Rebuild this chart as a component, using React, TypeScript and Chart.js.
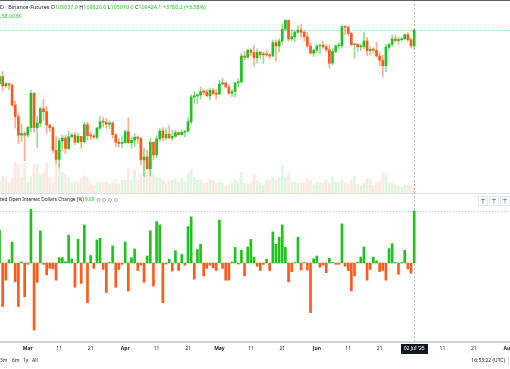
import { useEffect, useRef } from "react";
import { Chart, registerables } from "chart.js";
Chart.register(...registerables);

// Day index relative to 1 Mar 2025 (first candle: 20 Feb 2025)
const START_DAY = -9;
const LAST_DAY = 123; // 2 Jul 2025

// Prices in thousand USD — Feb20..28 | Mar | Apr | May | Jun | Jul1..2
const OPEN = [
  96.6, 98.3, 96.1, 96.6, 96.3, 91.5, 88.7, 84.3, 84.7,
  84.3, 86.1, 94.3, 86.1, 87.2, 90.6, 89.9, 86.7, 86.1, 80.7, 78.5, 82.9, 83.6, 81.1, 83.9, 84.3, 82.6, 84.0, 82.7, 86.8, 84.2, 84.1, 83.8, 86.0, 87.5, 87.4, 86.9, 87.2, 84.4, 82.6, 82.3,
  82.5, 85.1, 82.5, 83.1, 83.8, 83.5, 78.4, 79.1, 76.3, 82.6, 79.6, 83.4, 85.3, 83.7, 84.5, 83.6, 84.0, 84.9, 84.4, 85.0, 85.2, 87.5, 93.4, 93.7, 93.9, 94.7, 94.6, 93.7, 95.0, 94.2,
  94.1, 96.5, 96.8, 95.8, 94.3, 94.7, 96.8, 97.0, 103.2, 102.9, 104.6, 104.1, 102.8, 104.1, 103.5, 103.7, 103.5, 103.2, 106.4, 105.6, 106.8, 109.6, 111.7, 107.3, 107.8, 108.9, 109.4, 108.9, 107.8, 105.6, 103.9,
  104.6, 105.6, 105.8, 105.4, 104.7, 101.5, 104.3, 105.6, 105.7, 110.2, 110.1, 108.6, 105.9, 106.0, 105.4, 105.5, 106.8, 104.5, 104.8, 104.6, 103.2, 102.2, 100.9, 105.3, 106.0, 107.3, 106.9, 107.1, 107.3, 108.3,
  107.1, 105.64,
];
const HIGH = [
  98.8, 99.5, 96.9, 96.7, 96.5, 92.5, 89.4, 87.0, 85.1,
  86.5, 95.0, 94.4, 88.9, 91.0, 92.8, 91.2, 86.9, 86.4, 83.9, 83.6, 84.3, 84.3, 85.2, 84.7, 85.0, 84.7, 84.0, 87.4, 87.4, 85.0, 84.5, 86.1, 88.7, 88.5, 88.3, 87.8, 87.5, 84.6, 83.5, 83.9,
  85.5, 88.5, 83.9, 84.7, 84.2, 83.8, 81.2, 80.8, 83.5, 82.7, 84.2, 85.9, 86.1, 85.8, 86.5, 85.5, 85.5, 85.1, 85.6, 85.3, 88.5, 93.9, 94.7, 94.0, 95.8, 95.3, 95.2, 95.6, 95.5, 95.2,
  97.4, 97.9, 96.9, 96.3, 95.2, 96.9, 97.7, 103.9, 104.3, 104.9, 104.9, 105.8, 104.9, 104.3, 104.2, 104.6, 103.8, 107.1, 107.1, 107.3, 110.8, 112.0, 111.9, 109.5, 109.3, 110.4, 110.7, 109.3, 108.9, 106.3, 104.9,
  105.9, 105.9, 106.8, 106.0, 105.9, 105.0, 105.9, 106.4, 110.6, 110.4, 110.4, 108.9, 106.2, 106.2, 106.1, 108.9, 107.7, 105.5, 105.2, 106.5, 104.0, 103.4, 106.0, 106.3, 108.1, 108.2, 107.7, 107.6, 108.5, 108.8,
  107.5, 109.62,
];
const LOW = [
  96.4, 94.8, 95.7, 95.2, 91.2, 86.0, 82.3, 82.8, 78.2,
  83.8, 85.1, 85.0, 81.4, 86.3, 87.8, 84.7, 85.2, 80.0, 77.4, 76.6, 80.6, 79.9, 80.8, 83.6, 82.0, 82.4, 81.2, 82.4, 83.2, 83.2, 83.6, 83.3, 85.6, 86.3, 85.9, 85.8, 83.6, 81.6, 81.5, 81.3,
  82.4, 82.3, 81.2, 81.6, 82.3, 77.1, 74.5, 76.2, 74.6, 78.4, 78.9, 82.8, 82.9, 83.2, 83.6, 83.1, 83.8, 84.3, 84.3, 83.9, 85.1, 87.0, 91.9, 91.7, 92.9, 93.9, 93.5, 92.8, 93.9, 92.9,
  94.1, 96.3, 95.7, 94.1, 93.5, 93.4, 95.8, 96.9, 102.3, 102.8, 103.3, 100.7, 101.5, 102.6, 101.4, 103.1, 102.6, 103.1, 102.0, 104.2, 106.1, 109.3, 106.8, 106.9, 106.6, 108.6, 107.6, 106.8, 105.3, 103.6, 103.1,
  103.9, 103.7, 105.0, 104.2, 100.4, 101.1, 103.9, 104.9, 105.1, 108.3, 108.1, 105.7, 102.7, 104.3, 104.5, 104.9, 103.3, 103.5, 103.9, 102.9, 100.8, 98.2, 99.5, 104.6, 105.5, 106.6, 106.0, 106.8, 107.2, 106.7,
  105.2, 105.01,
];
const CLOSE = [
  98.3, 96.1, 96.6, 96.3, 91.5, 88.7, 84.3, 84.7, 84.3,
  86.1, 94.3, 86.1, 87.2, 90.6, 89.9, 86.7, 86.1, 80.7, 78.5, 82.9, 83.6, 81.1, 83.9, 84.3, 82.6, 84.0, 82.7, 86.8, 84.2, 84.1, 83.8, 86.0, 87.5, 87.4, 86.9, 87.2, 84.4, 82.6, 82.3, 82.5,
  85.1, 82.5, 83.1, 83.8, 83.5, 78.4, 79.1, 76.3, 82.6, 79.6, 83.4, 85.3, 83.7, 84.5, 83.6, 84.0, 84.9, 84.4, 85.0, 85.2, 87.5, 93.4, 93.7, 93.9, 94.7, 94.6, 93.7, 95.0, 94.2, 94.1,
  96.5, 96.8, 95.8, 94.3, 94.7, 96.8, 97.0, 103.2, 102.9, 104.6, 104.1, 102.8, 104.1, 103.5, 103.7, 103.5, 103.2, 106.4, 105.6, 106.8, 109.6, 111.7, 107.3, 107.8, 108.9, 109.4, 108.9, 107.8, 105.6, 103.9, 104.6,
  105.6, 105.8, 105.4, 104.7, 101.5, 104.3, 105.6, 105.7, 110.2, 110.1, 108.6, 105.9, 106.0, 105.4, 105.5, 106.8, 104.5, 104.8, 104.6, 103.2, 102.2, 100.9, 105.3, 106.0, 107.3, 106.9, 107.1, 107.3, 108.3, 107.1,
  105.64, 109.42,
];
// Volume (K)
const VOLUME = [
  120, 170, 160, 100, 150, 310, 280, 160, 300,
  110, 160, 290, 290, 180, 210, 300, 160, 100, 290, 290, 210, 180, 160, 100, 110, 110, 150, 170, 160, 100, 80, 100, 110, 110, 110, 90, 100, 130, 90, 130,
  130, 250, 130, 230, 130, 180, 350, 290, 320, 200, 160, 150, 130, 100, 120, 130, 150, 110, 150, 110, 200, 230, 160, 130, 130, 100, 100, 130, 130, 100,
  110, 100, 80, 80, 100, 130, 110, 210, 100, 90, 100, 180, 130, 100, 80, 130, 130, 160, 130, 160, 280, 160, 200, 110, 110, 100, 110, 100, 150, 130, 80,
  110, 100, 100, 130, 100, 160, 110, 110, 130, 100, 90, 130, 170, 80, 80, 100, 140, 140, 80, 100, 120, 200, 200, 100, 100, 80, 70, 60, 80, 80,
  80, 100,
];
// Aggregated Open Interest Dollars Change (%)
const OI_CHANGE = [
  6.1, -8.1, -3.2, 0.6, 3.9, -3.5, -8.1, 0.2, -6.3,
  -0.25, 10.0, -12.5, -3.6, 6.0, -0.25, -2.2, -1.0, -1.1, -3.2, 1.0, 1.0, 0.25, 5.2, 0.75, -4.5, 4.4, -3.8, 7.1, -7.4, 1.4, -1.0, 4.3, 4.6, -1.2, -5.5, 0.1, 3.2, -4.5, -1.2, -0.25,
  3.9, -5.2, 1.0, 2.6, -1.4, -0.4, -3.6, 1.3, 6.0, -4.3, 7.7, 7.1, -7.4, -0.2, 0.7, -1.5, 2.3, -1.4, 1.6, -0.4, 6.8, 8.6, -3.0, 2.5, 3.5, -2.4, -1.0, -0.4, -0.9, -1.4,
  8.0, -1.0, -3.2, -3.2, 0.2, 2.9, -0.2, 2.4, -2.4, 3.0, 4.4, 1.1, -0.6, -1.4, -0.25, 0.7, -1.4, 5.8, 3.5, 4.8, 7.1, 2.9, -3.5, -1.6, 0.1, 4.8, -1.3, 0.1, -1.3, -9.25, 0.8,
  1.3, -0.8, -0.4, -1.8, 0.9, 0.1, -0.25, -0.25, 7.3, -0.6, -1.4, -5.2, -2.4, 0.15, 1.1, 3.0, -3.2, -1.2, 1.1, 0.4, -1.6, -1.4, -3.2, 2.7, 3.6, 0.1, -2.1, 0.1, 2.4, -1.1,
  -1.9, 9.69,
];

const TICK_DAYS = [0, 10, 20, 31, 41, 51, 61, 71, 81, 92, 102, 112, 132, 142, 153];
const TICK_LABELS = ["Mar", "11", "21", "Apr", "11", "21", "May", "11", "21", "Jun", "11", "21", "11", "21", "Aug"];
const MONTH_LABELS = ["Mar", "Apr", "May", "Jun", "Aug"];
const CROSSHAIR_LABEL = "02 Jul '25";

const HEADER = [
  ["D · Binance-Futures ", "dark"],
  ["O", "dark"], ["105637.9", "green"],
  [" H", "dark"], ["109620.0", "green"],
  [" L", "dark"], ["105010.0", "green"],
  [" C", "dark"], ["109424.1", "green"],
  [" +3786.2 (+3.58%)", "green"],
];
const VOL_TEXT = ".58.003K";
const OI_TITLE = "ted Open Interest Dollars Change (%) ";
const OI_VALUE_TEXT = "9.69";
const RANGES = [["3m", 0], ["6m", 12], ["1y", 23], ["All", 32]];
const CLOCK = "16:53:22 (UTC)";

const GREEN = "#1fc21f";
const RED = "#ff5a1e";
const DARK = "#131722";
const FONT = '"Noto Sans", sans-serif';

const DAYS = CLOSE.map((_, i) => START_DAY + i);
const LAST_CLOSE = CLOSE[CLOSE.length - 1];
const LAST_OI = OI_CHANGE[OI_CHANGE.length - 1];

const labelFor = (v: number) => {
  const i = TICK_DAYS.indexOf(v);
  return i >= 0 ? TICK_LABELS[i] : "";
};

export default function App() {
  const ref = useRef<HTMLCanvasElement | null>(null);
  useEffect(() => {
    if (!ref.current) return;
    const up = CLOSE.map((c, i) => c >= OPEN[i]);
    const overlay = {
      id: "overlay",
      beforeDatasetsDraw(chart: any) {
        const { ctx, chartArea, scales } = chart;
        ctx.save();
        ctx.fillStyle = "#e0e3eb";
        ctx.fillRect(0, 193, chart.width, 1);
        const py = Math.round(scales.yp.getPixelForValue(LAST_CLOSE)) + 0.5;
        ctx.strokeStyle = "rgba(31,194,31,0.35)";
        ctx.lineWidth = 1;
        ctx.setLineDash([3, 1]);
        ctx.beginPath(); ctx.moveTo(0, py); ctx.lineTo(chart.width, py); ctx.stroke();
        const oy = Math.round(scales.yo.getPixelForValue(LAST_OI)) + 0.5;
        ctx.strokeStyle = "#c9cbd0";
        ctx.setLineDash([1.5, 1.5]);
        ctx.beginPath(); ctx.moveTo(0, oy); ctx.lineTo(chart.width, oy); ctx.stroke();
        const cx = Math.round(scales.x.getPixelForValue(LAST_DAY)) + 0.5;
        ctx.strokeStyle = "#b8bbc2";
        ctx.setLineDash([2, 2]);
        ctx.beginPath(); ctx.moveTo(cx, 0); ctx.lineTo(cx, chartArea.bottom); ctx.stroke();
        ctx.restore();
      },
      afterDraw(chart: any) {
        const { ctx, chartArea, scales } = chart;
        const W = chart.width;
        ctx.save();
        ctx.setLineDash([]);
        ctx.fillStyle = "#5d606b";
        ctx.fillRect(0, 0, W, 1);
        ctx.fillStyle = "#cfd2d8";
        ctx.fillRect(0, chartArea.bottom - 1, W, 2);
        ctx.textBaseline = "middle";
        ctx.textAlign = "left";
        ctx.font = `5.4px ${FONT}`;
        let x = 0;
        for (const [t, c] of HEADER) {
          ctx.fillStyle = c === "green" ? GREEN : DARK;
          ctx.fillText(t, x, 7);
          x += ctx.measureText(t).width;
        }
        ctx.fillStyle = GREEN;
        ctx.fillText(VOL_TEXT, 0, 16);
        ctx.font = `4.8px ${FONT}`;
        ctx.fillStyle = DARK;
        ctx.fillText(OI_TITLE, 0, 200);
        let x2 = ctx.measureText(OI_TITLE).width;
        ctx.fillStyle = GREEN;
        ctx.fillText(OI_VALUE_TEXT, x2, 200);
        x2 += ctx.measureText(OI_VALUE_TEXT).width + 4;
        ctx.strokeStyle = "#8a8e99";
        ctx.lineWidth = 0.7;
        for (let k = 0; k < 4; k++) {
          ctx.beginPath();
          ctx.arc(x2 + k * 5.8, 200, 1.5, 0, Math.PI * 2);
          ctx.stroke();
        }
        for (let k = 0; k < 3; k++) {
          const bx = 478.5 + k * 11;
          ctx.strokeStyle = "#e0e3eb";
          ctx.lineWidth = 1;
          ctx.strokeRect(bx, 196.5, 9, 9);
          ctx.strokeStyle = "#6a6d78";
          ctx.lineWidth = 0.7;
          ctx.beginPath();
          ctx.moveTo(bx + 4.5, 198.5); ctx.lineTo(bx + 4.5, 203.5);
          ctx.moveTo(bx + 2.5, 199.5); ctx.lineTo(bx + 6.5, 199.5);
          ctx.stroke();
        }
        const cx = scales.x.getPixelForValue(LAST_DAY);
        ctx.font = `5px ${FONT}`;
        const tw = ctx.measureText(CROSSHAIR_LABEL).width + 6;
        ctx.fillStyle = DARK;
        ctx.fillRect(Math.round(cx - tw / 2), chartArea.bottom + 2, Math.round(tw), 10);
        ctx.fillStyle = "#ffffff";
        ctx.textAlign = "center";
        ctx.fillText(CROSSHAIR_LABEL, cx, chartArea.bottom + 7);
        ctx.textAlign = "left";
        ctx.fillStyle = DARK;
        for (const [t, px] of RANGES) ctx.fillText(t as string, px as number, 361);
        ctx.textAlign = "right";
        ctx.fillText(CLOCK, 505, 361);
        ctx.fillStyle = "#d6d8de";
        ctx.fillRect(508, 356, 1, 10);
        ctx.restore();
      },
    };

    const chart = new Chart(ref.current, {
      type: "bar",
      data: {
        datasets: [
          {
            label: "body",
            data: DAYS.map((d, i) => ({ x: d, y: [OPEN[i], CLOSE[i]] })) as any,
            yAxisID: "yp",
            backgroundColor: up.map((u) => (u ? GREEN : RED)),
            barThickness: 2,
            minBarLength: 1,
            grouped: false,
            order: 1,
          },
          {
            label: "wick",
            data: DAYS.map((d, i) => ({ x: d, y: [LOW[i], HIGH[i]] })) as any,
            yAxisID: "yp",
            backgroundColor: up.map((u) => (u ? "rgba(31,194,31,0.5)" : "rgba(255,90,30,0.5)")),
            barThickness: 1,
            grouped: false,
            order: 2,
          },
          {
            label: "volume",
            data: DAYS.map((d, i) => ({ x: d, y: VOLUME[i] })) as any,
            yAxisID: "yv",
            backgroundColor: up.map((u) => (u ? "rgba(31,194,31,0.14)" : "rgba(255,90,30,0.14)")),
            barThickness: 2,
            grouped: false,
            order: 3,
          },
          {
            label: "oi",
            data: DAYS.map((d, i) => ({ x: d, y: OI_CHANGE[i] })) as any,
            yAxisID: "yo",
            backgroundColor: OI_CHANGE.map((v) => (v >= 0 ? GREEN : RED)),
            barThickness: 2,
            grouped: false,
            order: 1,
          },
        ],
      },
      options: {
        animation: false,
        responsive: true,
        maintainAspectRatio: false,
        events: [],
        layout: { padding: 0 },
        plugins: { legend: { display: false }, tooltip: { enabled: false } },
        scales: {
          x: {
            type: "linear",
            position: "bottom",
            min: -8.85,
            max: 153.5,
            offset: false,
            bounds: "data",
            grid: { display: false, drawTicks: false, offset: false },
            border: { display: false },
            afterBuildTicks: (s: any) => {
              s.ticks = TICK_DAYS.map((v) => ({ value: v }));
            },
            afterFit: (s: any) => {
              s.height = 27;
              s.paddingLeft = 0;
              s.paddingRight = 0;
            },
            ticks: {
              autoSkip: false,
              maxRotation: 0,
              padding: 4,
              color: DARK,
              callback: (v: any) => labelFor(Number(v)),
              font: (c: any) => ({
                family: FONT,
                size: 5,
                weight: MONTH_LABELS.includes(labelFor(c.tick?.value)) ? "bold" : "normal",
              }),
            },
          },
          yp: { type: "linear", display: false, min: 34.856, max: 116.594 },
          yv: { type: "linear", display: false, min: -1490, max: 1930 },
          yo: { type: "linear", display: false, min: -14.72, max: 49.01 },
        },
      } as any,
      plugins: [overlay],
    });
    return () => chart.destroy();
  }, []);

  return (
    <div style={{ position: "fixed", left: 0, top: 0, width: 510, height: 369, background: "#ffffff" }}>
      <canvas ref={ref} />
    </div>
  );
}
